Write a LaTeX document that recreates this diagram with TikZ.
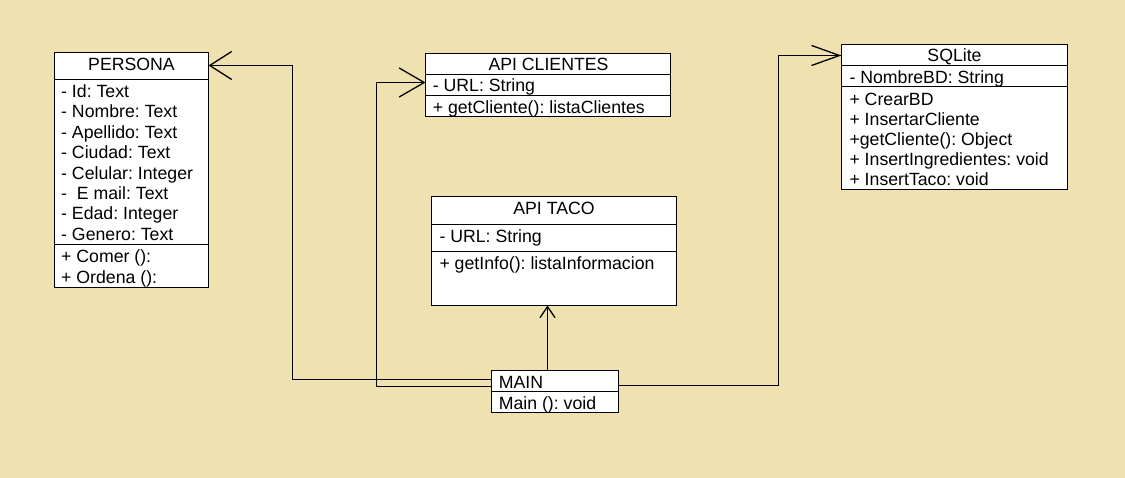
\documentclass[tikz,border=0pt]{standalone}
\usepackage{fontspec}
\setmainfont{Liberation Sans}
\usetikzlibrary{arrows.meta}
\definecolor{bg}{RGB}{239,226,176}
\frenchspacing
\begin{document}
\begin{tikzpicture}[x=1pt,y=-1pt,
  box/.style={draw=black, fill=white, line width=1.3pt, inner sep=0pt, outer sep=0pt, anchor=north west},
  sep/.style={draw=black, line width=1.3pt},
  conn/.style={draw=black, line width=1.3pt},
  txt/.style={inner sep=0pt, outer sep=0pt, text height=12.7pt, text depth=0pt, anchor=west, font=\fontsize{17.7}{20}\selectfont\frenchspacing},
  ttl/.style={txt, anchor=center}]
\fill[bg] (0,0) rectangle (1125,478);
\useasboundingbox (0,0) rectangle (1125,478);

% PERSONA
\node[box, minimum width=154pt, minimum height=235pt] (persona) at (54.5,52.5) {};
\draw[sep] ([yshift=-27pt]persona.north west) -- ([yshift=-27pt]persona.north east);
\draw[sep] ([yshift=-192pt]persona.north west) -- ([yshift=-192pt]persona.north east);
\node[ttl] (personat) at (131.5,64.2) {PERSONA};
\foreach \t [count=\i] in {{- Id: Text},{- Nombre: Text},{- Apellido: Text},{- Ciudad: Text},{- Celular: Integer},{- \ E mail: Text},{- Edad: Integer},{- Genero: Text}}
  \node[txt] (pa\i) at (61.2,{91.2+20.4*(\i-1)}) {\t};
\node[txt] (pm1) at (61.2,256.3) {+ Comer ():};
\node[txt] (pm2) at (61.2,277) {+ Ordena ():};

% API CLIENTES
\node[box, minimum width=245pt, minimum height=63pt] (apicl) at (425.5,53.5) {};
\draw[sep] ([yshift=-21pt]apicl.north west) -- ([yshift=-21pt]apicl.north east);
\draw[sep] ([yshift=-42pt]apicl.north west) -- ([yshift=-42pt]apicl.north east);
\node[ttl] (apiclt) at (548.5,64.2) {API CLIENTES};
\node[txt] (apicla) at (432.8,85.3) {- URL: String};
\node[txt] (apiclm) at (432.8,107.2) {+ getCliente(): listaClientes};

% API TACO
\node[box, minimum width=245pt, minimum height=109pt] (taco) at (431.5,196.5) {};
\draw[sep] ([yshift=-28pt]taco.north west) -- ([yshift=-28pt]taco.north east);
\draw[sep] ([yshift=-55pt]taco.north west) -- ([yshift=-55pt]taco.north east);
\node[ttl] (tacot) at (554,208.3) {API TACO};
\node[txt] (tacoa) at (439.5,236.3) {- URL: String};
\node[txt] (tacom) at (439.5,263) {+ getInfo(): listaInformacion};

% MAIN
\node[box, minimum width=127pt, minimum height=42pt] (main) at (491.5,370.5) {};
\draw[sep] ([yshift=-21pt]main.north west) -- ([yshift=-21pt]main.north east);
\node[txt] (maint) at (498.8,381.7) {MAIN};
\node[txt] (mainm) at (498.8,403.3) {Main (): void};

% SQLite
\node[box, minimum width=226pt, minimum height=145pt] (sqlite) at (841.5,44.5) {};
\draw[sep] ([yshift=-21pt]sqlite.north west) -- ([yshift=-21pt]sqlite.north east);
\draw[sep] ([yshift=-42pt]sqlite.north west) -- ([yshift=-42pt]sqlite.north east);
\node[ttl] (sqlitet) at (954.5,55.5) {SQLite};
\node[txt] (sqlitea) at (849.5,76.7) {- NombreBD: String};
\foreach \t [count=\i] in {{+ CrearBD},{+ InsertarCliente},{+getCliente(): Object},{+ InsertIngredientes: void},{+ InsertTaco: void}}
  \node[txt] (sqm\i) at (849.5,{99.2+20.05*(\i-1)}) {\t};

% connectors
\draw[conn,-{Straight Barb[length=22pt,width=28pt]}]
  ([yshift=12pt]main.west) -| ([xshift=84pt,yshift=-13pt]persona.north east) -- ([yshift=-13pt]persona.north east);
\draw[conn,-{Straight Barb[length=25pt,width=29pt]}]
  ([yshift=5pt]main.west) -| ([xshift=-49pt,yshift=-29pt]apicl.north west) -- ([yshift=-29pt]apicl.north west);
\draw[conn,-{Straight Barb[length=28pt,width=20pt]}]
  ([yshift=6pt]main.east) -| ([xshift=-63pt,yshift=-11pt]sqlite.north west) -- ([yshift=-11pt]sqlite.north west);
\draw[conn,-{Straight Barb[length=11pt,width=15pt]}]
  ([xshift=-7.5pt]main.north) -- ([xshift=-7.5pt]main.north |- taco.south);
\end{tikzpicture}
\end{document}
